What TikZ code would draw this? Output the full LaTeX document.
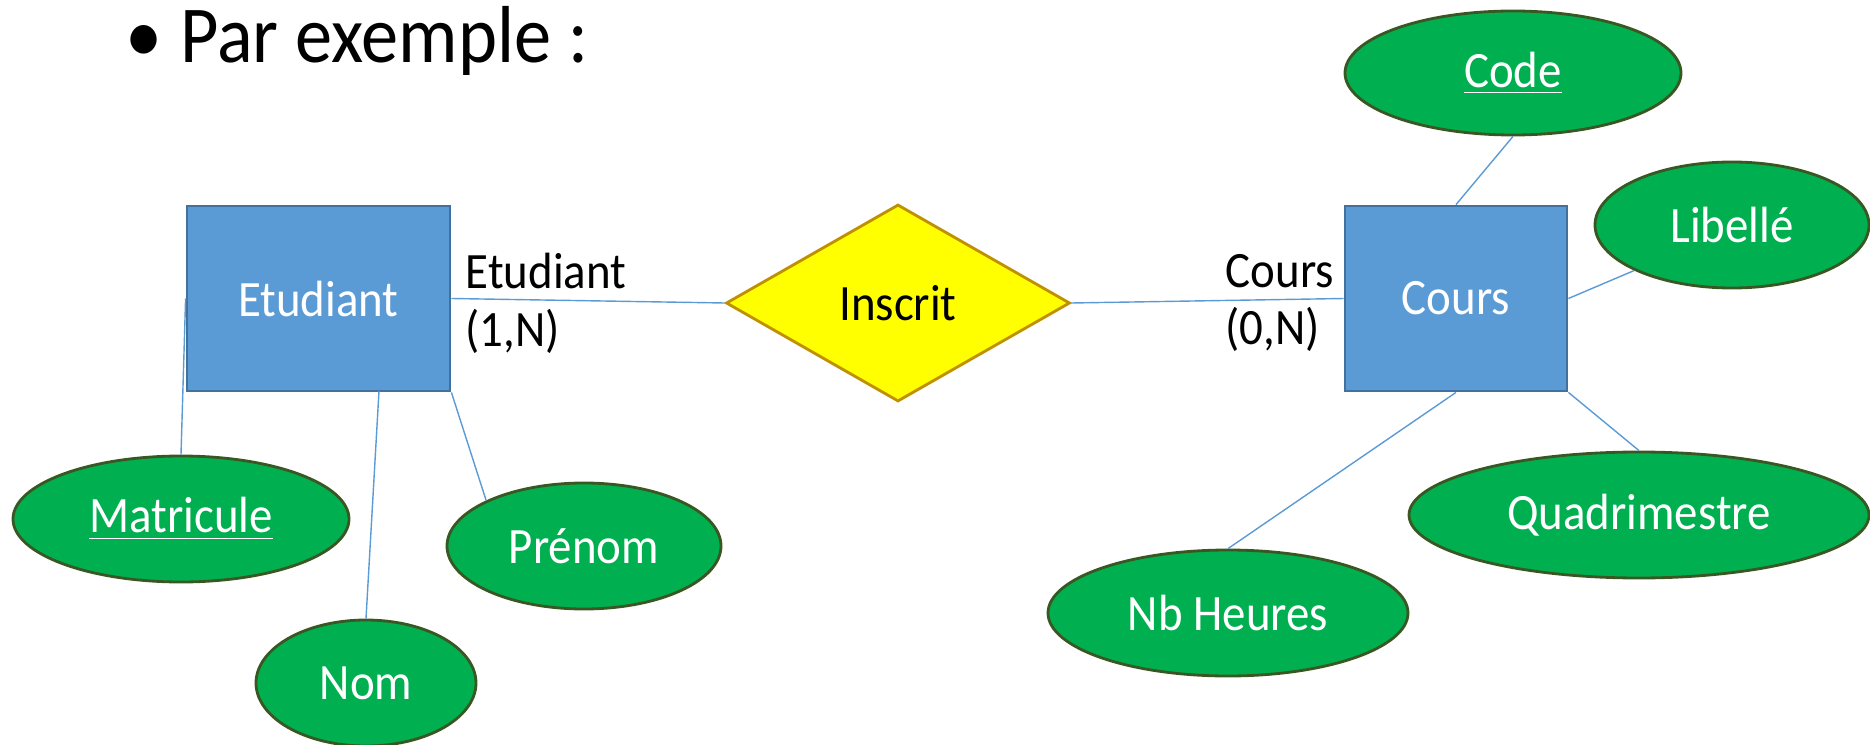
\documentclass[tikz,border=0pt]{standalone}
\usepackage{fontspec}
\setmainfont[FakeStretch=0.92]{Carlito}
\usetikzlibrary{shapes.geometric}

\definecolor{entblue}{HTML}{5B9BD5}
\definecolor{entedge}{HTML}{41719C}
\definecolor{relfill}{HTML}{FFFF00}
\definecolor{reledge}{HTML}{BF9000}
\definecolor{attfill}{HTML}{00B050}
\definecolor{attedge}{HTML}{385723}

\tikzset{
  entity/.style={draw=entedge, fill=entblue, line width=0.8pt, text=white,
    minimum height=1.85cm, font=\fontsize{14.5}{16.5}\selectfont},
  relation/.style={diamond, draw=reledge, fill=relfill, line width=0.8pt,
    inner sep=0pt, minimum width=3.44cm, minimum height=1.97cm,
    font=\fontsize{14.5}{16.5}\selectfont},
  attrib/.style={ellipse, draw=attedge, fill=attfill, line width=0.8pt,
    text=white, inner sep=0pt, minimum height=1.26cm,
    font=\fontsize{14.5}{16.5}\selectfont},
  link/.style={draw=entblue, line width=0.4pt},
  card/.style={align=left, anchor=west, inner sep=0pt,
    font=\fontsize{14.5}{16.5}\selectfont}
}

\begin{document}
\begin{tikzpicture}
      \useasboundingbox (0,0) rectangle (18.7,-7.45);
      \node (titre) [anchor=base west, inner sep=0pt, font=\fontsize{23}{27}\selectfont]
        at (1.25,-0.63) {\textbullet\hspace{5pt}Par exemple :};
      % entites et association
      \node (etud) [entity, minimum width=2.63cm] at (3.185,-2.985) {Etudiant};
      \node (insc) [relation] at (8.98,-3.03) {Inscrit};
      \node (cours) [entity, minimum width=2.22cm] at (14.56,-2.985) {Cours};
      \draw [link] (etud.east) -- (insc.west);
      \draw [link] (insc.east) -- (cours.west);
      \node (cardE) [card] at (4.65,-3.03) {Etudiant\\(1,N)};
      \node (cardC) [card] at (12.25,-3.03) {Cours\\(0,N)};
      % attributs de Etudiant
      \node (matr) [attrib, minimum width=3.36cm] at (1.81,-5.19) {\underline{Matricule}};
      \node (nom) [attrib, minimum width=2.2cm] at (3.66,-6.83) {Nom};
      \node (pren) [attrib, minimum width=2.74cm] at (5.84,-5.46) {Prénom};
      \draw [link] (matr.north) -- (etud.west);
      \draw [link] (nom.north) -- (3.79,-3.91);
      \draw [link] (pren.north west) -- (etud.south east);
      % attributs de Cours
      \node (code) [attrib, minimum width=3.36cm, minimum height=1.24cm] at (15.13,-0.73) {\underline{Code}};
      \node (lib) [attrib, minimum width=2.74cm] at (17.32,-2.25) {Libellé};
      \node (quad) [attrib, minimum width=4.6cm] at (16.39,-5.15) {Quadrimestre};
      \node (nbh) [attrib, minimum width=3.6cm] at (12.28,-6.13) {Nb Heures};
      \draw [link] (code.south) -- (cours.north);
      \draw [link] (cours.east) -- (lib.south west);
      \draw [link] (cours.south east) -- (quad.north);
      \draw [link] (cours.south) -- (nbh.north);
    \end{tikzpicture}
\end{document}
